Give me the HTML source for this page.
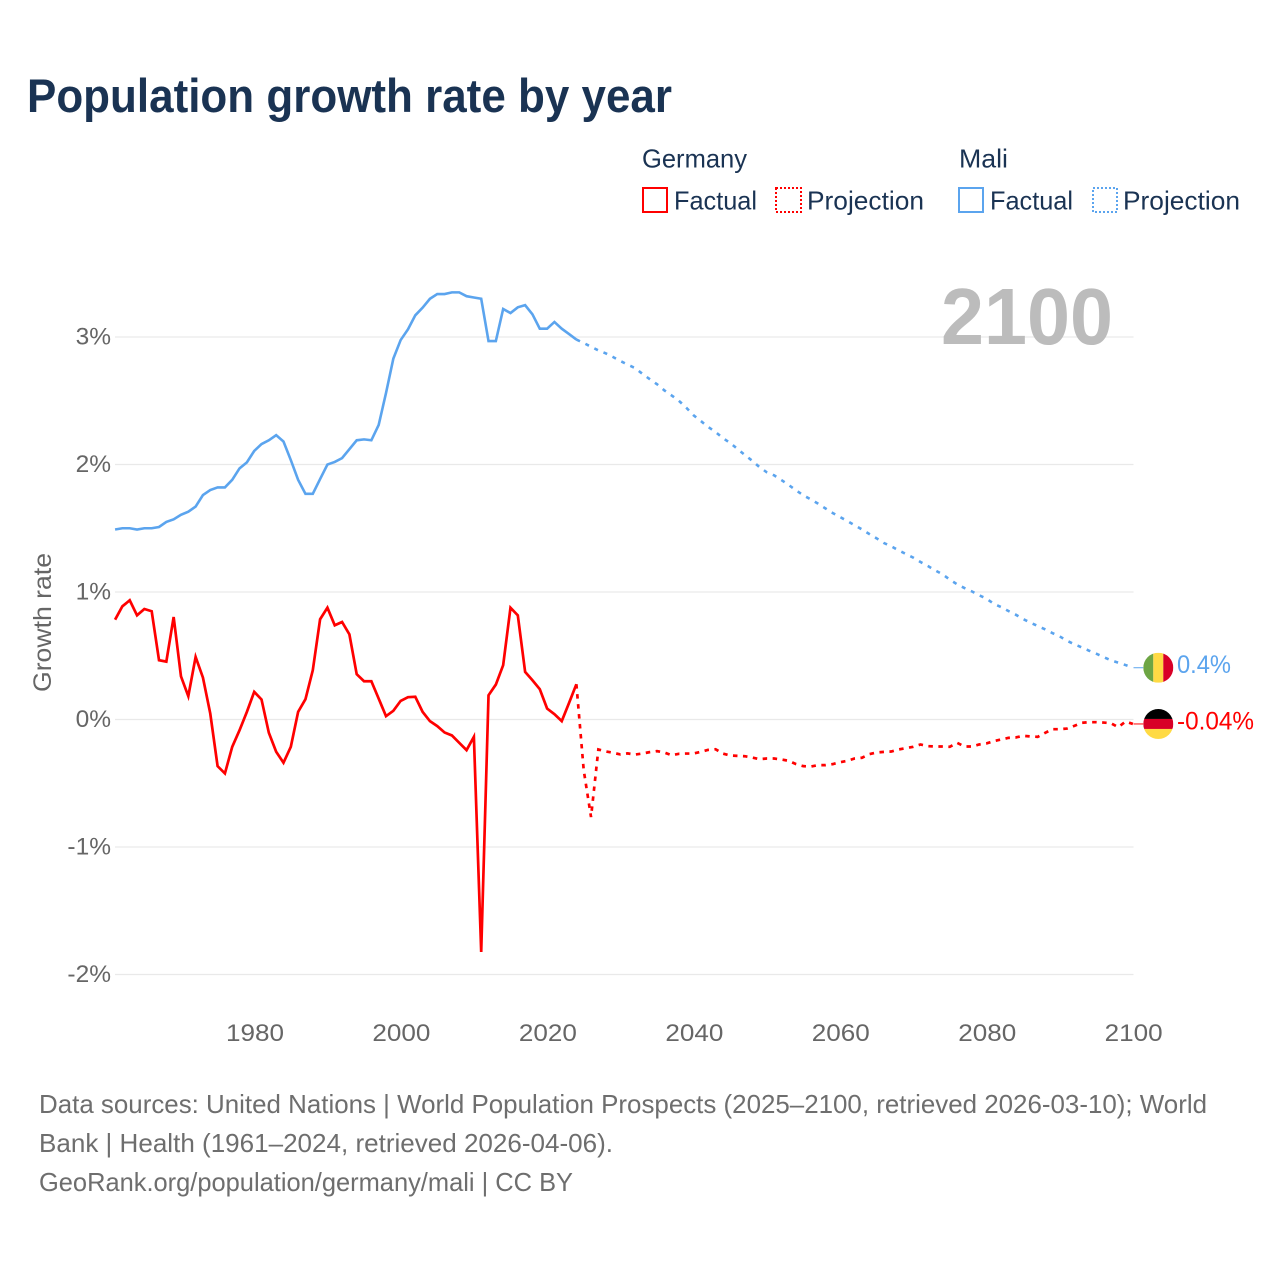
<!DOCTYPE html>
<html lang="en">
<head>
<meta charset="utf-8">
<title>Population growth rate by year</title>
<style>
html,body{margin:0;padding:0;background:#fff;width:1280px;height:1280px;overflow:hidden}
svg{display:block}
text{font-family:"Liberation Sans",sans-serif}
</style>
</head>
<body>
<svg id="chart" xmlns="http://www.w3.org/2000/svg" width="1280" height="1280" viewBox="0 0 1280 1280">
  <rect width="1280" height="1280" fill="#fff"/>
  <text x="27" y="112" font-size="47" font-weight="700" fill="#1a3353" textLength="645" lengthAdjust="spacingAndGlyphs">Population growth rate by year</text>

  <g font-size="26" fill="#1a3353">
    <text x="642" y="167.5" textLength="105" lengthAdjust="spacingAndGlyphs">Germany</text>
    <text x="959" y="167.5" textLength="49" lengthAdjust="spacingAndGlyphs">Mali</text>
    <g>
      <rect x="643" y="188" width="24" height="24" fill="none" stroke="#ff0000" stroke-width="2"/>
      <text x="674" y="209.5" textLength="83" lengthAdjust="spacingAndGlyphs">Factual</text>
    </g>
    <g>
      <rect x="776" y="188" width="25" height="24" fill="none" stroke="#ff0000" stroke-width="2" stroke-dasharray="2 2"/>
      <text x="807" y="209.5" textLength="117" lengthAdjust="spacingAndGlyphs">Projection</text>
    </g>
    <g>
      <rect x="959" y="188" width="24" height="24" fill="none" stroke="#5ba4ee" stroke-width="2"/>
      <text x="990" y="209.5" textLength="83" lengthAdjust="spacingAndGlyphs">Factual</text>
    </g>
    <g>
      <rect x="1093" y="188" width="24" height="24" fill="none" stroke="#5ba4ee" stroke-width="2" stroke-dasharray="2 2"/>
      <text x="1123" y="209.5" textLength="117" lengthAdjust="spacingAndGlyphs">Projection</text>
    </g>
  </g>

  <g id="grid"></g>
  <g id="yticks"></g>
  <g id="xticks"></g>

  <text transform="translate(51,692) rotate(-90)" font-size="25" fill="#666" textLength="139" lengthAdjust="spacingAndGlyphs">Growth rate</text>

  <text x="941" y="344" font-size="80" font-weight="700" fill="#bcbcbc" textLength="172" lengthAdjust="spacingAndGlyphs">2100</text>

  <g id="series"></g>

  <defs>
    <clipPath id="flag-clip"><circle cx="0" cy="0" r="15"/></clipPath>
  </defs>
  <g id="flag-mali" clip-path="url(#flag-clip)">
    <rect x="-15" y="-15" width="10" height="30" fill="#6da544"/>
    <rect x="-5" y="-15" width="10" height="30" fill="#ffda44"/>
    <rect x="5" y="-15" width="10" height="30" fill="#d80027"/>
  </g>
  <g id="flag-germany" clip-path="url(#flag-clip)">
    <rect x="-15" y="-15" width="30" height="10" fill="#000"/>
    <rect x="-15" y="-5" width="30" height="10" fill="#d80027"/>
    <rect x="-15" y="5" width="30" height="10" fill="#ffda44"/>
  </g>
  <text id="label-mali" x="1177" font-size="25" fill="#5ba4ee" textLength="54" lengthAdjust="spacingAndGlyphs"></text>
  <text id="label-germany" x="1177" font-size="25" fill="#ff0000" textLength="77" lengthAdjust="spacingAndGlyphs"></text>

  <g font-size="26" fill="#6e6e6e">
    <text x="39" y="1113" textLength="1168" lengthAdjust="spacingAndGlyphs">Data sources: United Nations | World Population Prospects (2025–2100, retrieved 2026-03-10); World</text>
    <text x="39" y="1152" textLength="574" lengthAdjust="spacingAndGlyphs">Bank | Health (1961–2024, retrieved 2026-04-06).</text>
    <text x="39" y="1191" textLength="534" lengthAdjust="spacingAndGlyphs">GeoRank.org/population/germany/mali | CC BY</text>
  </g>
</svg>
<script>
const yTickValues = [-2, -1, 0, 1, 2, 3];
const yTickLabels = ['-2%', '-1%', '0%', '1%', '2%', '3%'];
const xTickYears = [1980, 2000, 2020, 2040, 2060, 2080, 2100];
const factualStartYear = 1961;
const projectionStartYear = 2024;
const endValueLabels = { mali: '0.4%', germany: '-0.04%' };

const maliFactual = [1.49,1.50,1.50,1.49,1.50,1.50,1.51,1.55,1.57,1.606,1.63,1.67,1.76,1.80,1.82,1.82,1.88,1.97,2.017,2.106,2.16,2.19,2.23,2.18,2.035,1.88,1.77,1.77,1.886,2.00,2.02,2.05,2.12,2.19,2.197,2.19,2.31,2.56,2.83,2.976,3.06,3.17,3.23,3.30,3.337,3.337,3.35,3.35,3.32,3.31,3.30,2.968,2.968,3.22,3.188,3.233,3.25,3.178,3.065,3.065,3.118,3.065,3.023,2.98];

const maliProjection = [2.98,2.953,2.924,2.895,2.872,2.843,2.812,2.783,2.757,2.712,2.67,2.63,2.582,2.542,2.50,2.446,2.386,2.341,2.294,2.255,2.208,2.169,2.122,2.075,2.03,1.98,1.939,1.915,1.878,1.839,1.797,1.758,1.727,1.693,1.656,1.62,1.588,1.557,1.523,1.491,1.455,1.421,1.384,1.358,1.327,1.298,1.27,1.235,1.204,1.17,1.139,1.097,1.06,1.031,1.005,0.974,0.948,0.908,0.882,0.851,0.822,0.788,0.76,0.733,0.707,0.678,0.652,0.618,0.59,0.566,0.54,0.516,0.49,0.464,0.446,0.427,0.406];

const germanyFactual = [0.783,0.888,0.935,0.817,0.867,0.849,0.465,0.454,0.804,0.339,0.183,0.491,0.329,0.047,-0.366,-0.423,-0.214,-0.084,0.06,0.217,0.157,-0.104,-0.253,-0.339,-0.214,0.06,0.159,0.386,0.786,0.877,0.739,0.765,0.668,0.355,0.30,0.30,0.164,0.026,0.068,0.146,0.175,0.178,0.06,-0.013,-0.052,-0.102,-0.125,-0.183,-0.24,-0.136,-1.823,0.19,0.274,0.426,0.877,0.817,0.373,0.308,0.238,0.086,0.042,-0.013,0.13,0.277];

const germanyProjection = [0.277,-0.397,-0.765,-0.235,-0.25,-0.261,-0.274,-0.266,-0.275,-0.267,-0.256,-0.248,-0.259,-0.28,-0.269,-0.267,-0.267,-0.254,-0.238,-0.233,-0.267,-0.282,-0.285,-0.288,-0.298,-0.311,-0.306,-0.306,-0.314,-0.324,-0.35,-0.366,-0.369,-0.358,-0.358,-0.35,-0.335,-0.324,-0.306,-0.30,-0.272,-0.259,-0.254,-0.251,-0.235,-0.225,-0.214,-0.196,-0.209,-0.212,-0.212,-0.214,-0.183,-0.212,-0.212,-0.196,-0.188,-0.17,-0.157,-0.144,-0.141,-0.128,-0.133,-0.136,-0.105,-0.076,-0.076,-0.071,-0.05,-0.026,-0.021,-0.021,-0.024,-0.029,-0.06,-0.016,-0.035];

const NS = 'http://www.w3.org/2000/svg';
const plotLeft = 115;
const plotRight = 1133.5;
const flagX = 1158.3;
function xScale(year) { return 254.2 + (year - 1980) * 7.3225; }
function yScale(v) { return 719.5 - v * 127.5; }

const gridGroup = document.getElementById('grid');
const yTickGroup = document.getElementById('yticks');
yTickValues.forEach(function (v, i) {
  const line = document.createElementNS(NS, 'line');
  
  
  line.setAttribute('x1', plotLeft);
  line.setAttribute('x2', plotRight);
  line.setAttribute('y1', yScale(v));
  line.setAttribute('y2', yScale(v));
  line.setAttribute('stroke', '#e9e9e9');
  line.setAttribute('stroke-width', '1.2');
  gridGroup.appendChild(line);

  const t = document.createElementNS(NS, 'text');
  
  
  t.setAttribute('x', 111);
  t.setAttribute('y', yScale(v) + 7.5);
  t.setAttribute('text-anchor', 'end');
  t.setAttribute('font-size', '24.5');
  t.setAttribute('fill', '#666');
  t.textContent = yTickLabels[i];
  yTickGroup.appendChild(t);
});

const xTickGroup = document.getElementById('xticks');
xTickYears.forEach(function (year) {
  const t = document.createElementNS(NS, 'text');
  
  
  t.setAttribute('x', xScale(year) + 0.8);
  t.setAttribute('y', 1041);
  t.setAttribute('text-anchor', 'middle');
  t.setAttribute('font-size', '24.5');
  t.setAttribute('fill', '#666');
  t.setAttribute('textLength', '58');
  t.setAttribute('lengthAdjust', 'spacingAndGlyphs');
  t.textContent = String(year);
  xTickGroup.appendChild(t);
});

function pathFor(values, startYear) {
  return values.map(function (v, i) {
    return (i ? 'L' : 'M') + xScale(startYear + i).toFixed(2) + ' ' + yScale(v).toFixed(2);
  }).join(' ');
}

const seriesGroup = document.getElementById('series');

const maliFactualLine = document.createElementNS(NS, 'path');


maliFactualLine.setAttribute('d', pathFor(maliFactual, factualStartYear));
maliFactualLine.setAttribute('fill', 'none');
maliFactualLine.setAttribute('stroke', '#5ba4ee');
maliFactualLine.setAttribute('stroke-width', '2.6');
seriesGroup.appendChild(maliFactualLine);

const maliProjectionLine = document.createElementNS(NS, 'path');


maliProjectionLine.setAttribute('d', pathFor(maliProjection, projectionStartYear));
maliProjectionLine.setAttribute('fill', 'none');
maliProjectionLine.setAttribute('stroke', '#5ba4ee');
maliProjectionLine.setAttribute('stroke-width', '2.6');
maliProjectionLine.setAttribute('stroke-dasharray', '4 6');
seriesGroup.appendChild(maliProjectionLine);

const germanyFactualLine = document.createElementNS(NS, 'path');


germanyFactualLine.setAttribute('d', pathFor(germanyFactual, factualStartYear));
germanyFactualLine.setAttribute('fill', 'none');
germanyFactualLine.setAttribute('stroke', '#ff0000');
germanyFactualLine.setAttribute('stroke-width', '2.7');
seriesGroup.appendChild(germanyFactualLine);

const germanyProjectionLine = document.createElementNS(NS, 'path');


germanyProjectionLine.setAttribute('d', pathFor(germanyProjection, projectionStartYear));
germanyProjectionLine.setAttribute('fill', 'none');
germanyProjectionLine.setAttribute('stroke', '#ff0000');
germanyProjectionLine.setAttribute('stroke-width', '2.7');
germanyProjectionLine.setAttribute('stroke-dasharray', '4.5 5.5');
seriesGroup.appendChild(germanyProjectionLine);

const maliEnd = yScale(maliProjection[maliProjection.length - 1]);
const germanyEnd = yScale(germanyProjection[germanyProjection.length - 1]);

const maliConnector = document.createElementNS(NS, 'line');


maliConnector.setAttribute('x1', plotRight);
maliConnector.setAttribute('x2', flagX - 15);
maliConnector.setAttribute('y1', maliEnd);
maliConnector.setAttribute('y2', maliEnd);
maliConnector.setAttribute('stroke', '#5ba4ee');
maliConnector.setAttribute('stroke-width', '1');
seriesGroup.appendChild(maliConnector);

const germanyConnector = document.createElementNS(NS, 'line');


germanyConnector.setAttribute('x1', plotRight);
germanyConnector.setAttribute('x2', flagX - 15);
germanyConnector.setAttribute('y1', germanyEnd);
germanyConnector.setAttribute('y2', germanyEnd);
germanyConnector.setAttribute('stroke', '#ff0000');
germanyConnector.setAttribute('stroke-width', '1');
seriesGroup.appendChild(germanyConnector);

document.getElementById('flag-mali').setAttribute('transform', 'translate(' + flagX + ',' + maliEnd + ')');
document.getElementById('flag-germany').setAttribute('transform', 'translate(' + flagX + ',' + germanyEnd + ')');

const labelMali = document.getElementById('label-mali');
labelMali.setAttribute('y', maliEnd + 5.5);
labelMali.textContent = endValueLabels.mali;
const labelGermany = document.getElementById('label-germany');
labelGermany.setAttribute('y', germanyEnd + 5.5);
labelGermany.textContent = endValueLabels.germany;
</script>
</body>
</html>
